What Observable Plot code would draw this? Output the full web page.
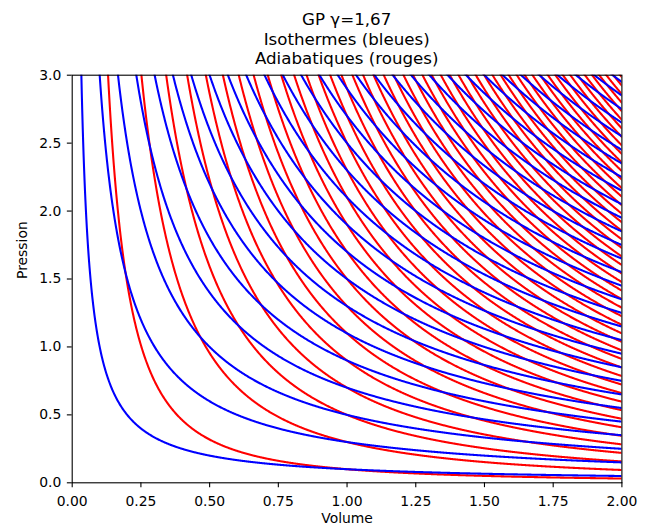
<!DOCTYPE html>
<html>
<head>
<meta charset="utf-8">
<script src="https://cdn.jsdelivr.net/npm/d3@7"></script>
<script src="https://cdn.jsdelivr.net/npm/@observablehq/plot@0.6"></script>
<style>
  html, body { margin: 0; padding: 0; background: white; }
  #wrap { width: 649px; height: 530px; position: relative; font-family: "DejaVu Sans", sans-serif; }
  #title { box-sizing: border-box; width: 550px; margin-left: 71.7px; height: 68px; padding-top: 10.3px;
           text-align: center; font-size: 16.67px; line-height: 19.3px; color: black; }
  svg { display: block; }
</style>
</head>
<body>
<div id="wrap">
  <div id="title"><div>GP γ=1,67</div><div>Isothermes (bleues)</div><div>Adiabatiques (rouges)</div></div>
  <div id="chart"></div>
</div>
<script>
// Gas constants
const gamma = 1.67;
// Isotherm constants k in P = k / V (blue)
const isothermK = [0.1, 0.3, 0.5, 0.7, 0.9, 1.1, 1.3, 1.5, 1.7, 1.9,
                   2.1, 2.3, 2.5, 2.7, 2.9, 3.1, 3.3, 3.5, 3.7, 3.9,
                   4.1, 4.3, 4.5, 4.7, 4.9, 5.1, 5.3, 5.5, 5.7, 5.9,
                   6.1, 6.3, 6.5, 6.7, 6.9, 7.1, 7.3, 7.5, 7.7, 7.9,
                   8.1, 8.3, 8.5, 8.7, 8.9, 9.1, 9.3, 9.5, 9.7, 9.9];
// Adiabat constants c in P = c / V^gamma (red)
const adiabatC = [0.1, 0.3, 0.5, 0.7, 0.9, 1.1, 1.3, 1.5, 1.7, 1.9,
                  2.1, 2.3, 2.5, 2.7, 2.9, 3.1, 3.3, 3.5, 3.7, 3.9,
                  4.1, 4.3, 4.5, 4.7, 4.9, 5.1, 5.3, 5.5, 5.7, 5.9,
                  6.1, 6.3, 6.5, 6.7, 6.9, 7.1, 7.3, 7.5, 7.7, 7.9,
                  8.1, 8.3, 8.5, 8.7, 8.9, 9.1, 9.3, 9.5, 9.7, 9.9];
// Volume range sampled
const volumeRange = [0.01, 2.0];
const xTicks = [0, 0.25, 0.5, 0.75, 1.0, 1.25, 1.5, 1.75, 2.0];
const yTicks = [0, 0.5, 1.0, 1.5, 2.0, 2.5, 3.0];
const titleLines = ["GP γ=1,67", "Isothermes (bleues)", "Adiabatiques (rouges)"];
const xLabel = "Volume";
const yLabel = "Pression";

const nSamples = 1200;
const volumes = d3.range(nSamples).map(i => volumeRange[0] + (volumeRange[1] - volumeRange[0]) * i / (nSamples - 1));

function curves(constants, exponent, prefix) {
  const out = [];
  constants.forEach((c, i) => {
    for (const V of volumes) {
      const P = c / Math.pow(V, exponent);
      if (P < 60) out.push({V, P, id: prefix + i});
    }
  });
  return out;
}
const adiabatData = curves(adiabatC, gamma, "a");
const isothermData = curves(isothermK, 1, "i");

const chart = Plot.plot({
  width: 649,
  height: 462,
  marginLeft: 71.7,
  marginRight: 27.6,
  marginTop: 6.7,
  marginBottom: 47.7,
  x: {domain: [0, 2]},
  y: {domain: [0, 3]},
  style: {fontFamily: "DejaVu Sans, sans-serif", fontSize: "13.9px", color: "black", background: "white"},
  marks: [
    Plot.line(adiabatData, {x: "V", y: "P", z: "id", stroke: "#ff0000", strokeWidth: 2.08, clip: true}),
    Plot.line(isothermData, {x: "V", y: "P", z: "id", stroke: "#0000ff", strokeWidth: 2.08, clip: true}),
    Plot.frame({stroke: "black", strokeWidth: 1.1}),
    Plot.axisX({ticks: xTicks, tickFormat: d3.format(".2f"), tickSize: 4.86, tickPadding: 8.6, label: null, strokeWidth: 1.1}),
    Plot.axisY({ticks: yTicks, tickFormat: d3.format(".1f"), tickSize: 4.86, tickPadding: 6.1, label: null, strokeWidth: 1.1}),
    Plot.text([xLabel], {frameAnchor: "bottom", dy: 40, fontSize: 13.9, fill: "black"}),
    Plot.text([yLabel], {frameAnchor: "left", dx: -49.5, rotate: -90, fontSize: 13.9, fill: "black"})
  ]
});
document.getElementById("chart").appendChild(chart);
document.getElementById("title").innerHTML = titleLines.map(t => `<div>${t}</div>`).join("");
</script>
</body>
</html>
